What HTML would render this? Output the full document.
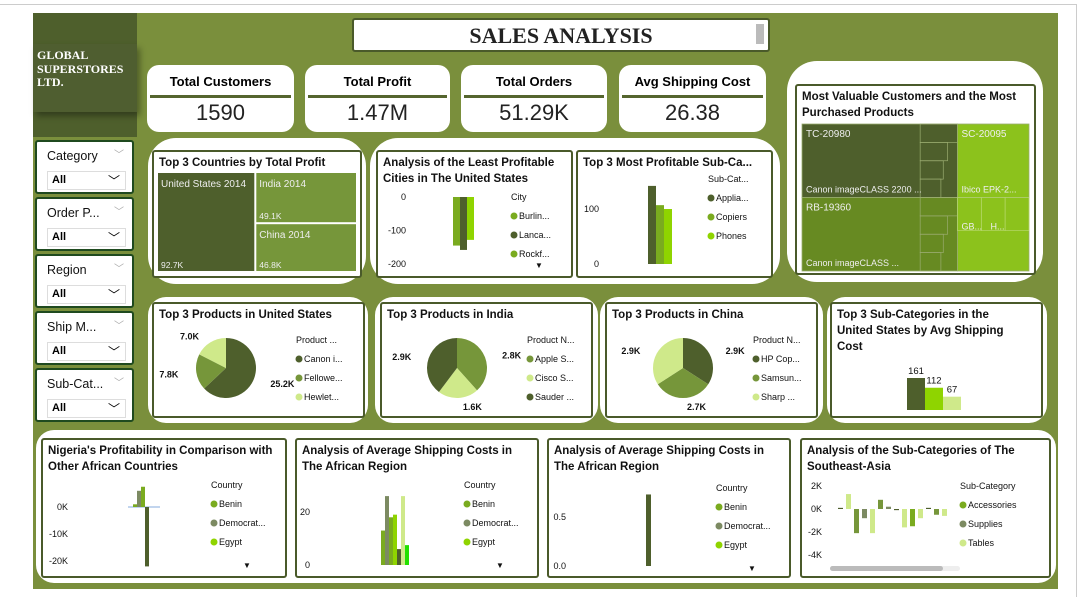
<!DOCTYPE html>
<html><head><meta charset="utf-8">
<style>
*{box-sizing:border-box;margin:0;padding:0}
body{width:1089px;height:597px;background:#fff;position:relative;overflow:hidden;font-family:"Liberation Sans",sans-serif}
.abs{position:absolute}
.bg{position:absolute;background:#fff}
.card{position:absolute;background:#fff;border:2px solid #4a5a2a;border-radius:3px}
.ct{position:absolute;left:5px;top:3px;font-size:11.5px;font-weight:bold;color:#111;line-height:16px}
.kpi{position:absolute;top:65px;height:67px;background:#fff;border-radius:12px;text-align:center}
.kpi .t{font-size:13px;font-weight:bold;margin-top:9px;height:17px}
.kpi .ln{height:3px;background:#55652e;margin:4px 3px 0}
.kpi .v{font-size:22px;margin-top:2px;color:#222}
.filt{position:absolute;left:35px;width:99px;height:54px;background:#fff;border:2px solid #1f4a1f;border-radius:3px}
.filt .l{position:absolute;left:10px;top:7px;font-size:12.5px;color:#111}
.filt .c1{position:absolute;right:8px;top:4px;font-size:10px;color:#aaa}
.filt .dd{position:absolute;left:10px;top:29px;width:79px;height:19px;border:1px solid #ddd;font-size:11px;font-weight:bold;padding:2px 4px}
.filt .dd span{position:absolute;right:5px;top:0px;font-weight:normal;font-size:12px}
</style></head><body>
<div class="abs" style="left:0;top:4px;width:1076px;height:1px;background:#ccc"></div>
<div class="abs" style="left:1076px;top:4px;width:1px;height:593px;background:#ccc"></div>
<div class="abs" style="left:33px;top:13px;width:1025px;height:576px;background:#7a8f3c"></div>
<div class="abs" style="left:33px;top:13px;width:104px;height:124px;background:#4e5f2c"></div>
<div class="abs" style="left:33px;top:44px;width:104px;height:68px;background:#4f5e30;box-shadow:3px 4px 6px rgba(0,0,0,.35);color:#fff;font-family:'Liberation Serif',serif;font-weight:bold;font-size:12px;line-height:13.5px;padding:5px 4px">GLOBAL<br>SUPERSTORES<br>LTD.</div>
<div class="abs" style="left:352px;top:18px;width:418px;height:34px;background:#fff;border:2px solid #4a5a2a;border-radius:3px;text-align:center;font-family:'Liberation Serif',serif;font-weight:bold;font-size:22px;line-height:32px;color:#222">SALES ANALYSIS<div style="position:absolute;right:4px;top:4px;width:8px;height:20px;background:#bbb"></div></div>

<div class="kpi" style="left:147px;width:147px"><div class="t">Total Customers</div><div class="ln"></div><div class="v">1590</div></div>
<div class="kpi" style="left:305px;width:145px"><div class="t">Total Profit</div><div class="ln"></div><div class="v">1.47M</div></div>
<div class="kpi" style="left:461px;width:146px"><div class="t">Total Orders</div><div class="ln"></div><div class="v">51.29K</div></div>
<div class="kpi" style="left:619px;width:147px"><div class="t">Avg Shipping Cost</div><div class="ln"></div><div class="v">26.38</div></div>

<div class="filt" style="top:140px"><div class="l">Category</div><div class="c1">﹀</div><div class="dd">All<span>﹀</span></div></div>
<div class="filt" style="top:197px"><div class="l">Order P...</div><div class="c1">﹀</div><div class="dd">All<span>﹀</span></div></div>
<div class="filt" style="top:254px"><div class="l">Region</div><div class="c1">﹀</div><div class="dd">All<span>﹀</span></div></div>
<div class="filt" style="top:311px"><div class="l">Ship M...</div><div class="c1">﹀</div><div class="dd">All<span>﹀</span></div></div>
<div class="filt" style="top:368px"><div class="l">Sub-Cat...</div><div class="c1">﹀</div><div class="dd">All<span>﹀</span></div></div>

<div class="bg" style="left:148px;top:138px;width:218px;height:146px;border-radius:28px"></div>
<div class="bg" style="left:370px;top:138px;width:410px;height:146px;border-radius:28px"></div>
<div class="bg" style="left:787px;top:61px;width:256px;height:221px;border-radius:30px"></div>
<div class="bg" style="left:148px;top:297px;width:220px;height:126px;border-radius:18px"></div>
<div class="bg" style="left:375px;top:297px;width:223px;height:126px;border-radius:18px"></div>
<div class="bg" style="left:600px;top:297px;width:223px;height:126px;border-radius:18px"></div>
<div class="bg" style="left:827px;top:297px;width:220px;height:126px;border-radius:18px"></div>
<div class="bg" style="left:36px;top:430px;width:1020px;height:153px;border-radius:18px"></div>

<div class="card" style="left:152px;top:150px;width:210px;height:128px"><div class="ct">Top 3 Countries by Total Profit</div></div>
<div class="card" style="left:376px;top:150px;width:197px;height:128px"><div class="ct">Analysis of the Least Profitable<br>Cities in The United States</div></div>
<div class="card" style="left:576px;top:150px;width:197px;height:128px"><div class="ct">Top 3 Most Profitable Sub-Ca...</div></div>
<div class="card" style="left:795px;top:84px;width:241px;height:191px"><div class="ct">Most Valuable Customers and the Most<br>Purchased Products</div></div>
<div class="card" style="left:152px;top:302px;width:213px;height:116px"><div class="ct">Top 3 Products in United States</div></div>
<div class="card" style="left:380px;top:302px;width:213px;height:116px"><div class="ct">Top 3 Products in India</div></div>
<div class="card" style="left:605px;top:302px;width:213px;height:116px"><div class="ct">Top 3 Products in China</div></div>
<div class="card" style="left:830px;top:302px;width:213px;height:116px"><div class="ct">Top 3 Sub-Categories in the<br>United States by Avg Shipping<br>Cost</div></div>
<div class="card" style="left:41px;top:438px;width:246px;height:140px"><div class="ct">Nigeria's Profitability in Comparison with<br>Other African Countries</div></div>
<div class="card" style="left:295px;top:438px;width:244px;height:140px"><div class="ct">Analysis of Average Shipping Costs in<br>The African Region</div></div>
<div class="card" style="left:547px;top:438px;width:244px;height:140px"><div class="ct">Analysis of Average Shipping Costs in<br>The African Region</div></div>
<div class="card" style="left:800px;top:438px;width:251px;height:140px"><div class="ct">Analysis of the Sub-Categories of The<br>Southeast-Asia</div></div>

<svg id="ov" width="1089" height="597" style="position:absolute;left:0;top:0" font-family="Liberation Sans, sans-serif"></svg>

<script>
const DK='#4e5f2c',MID='#76963a',GR='#7aab1f',LIME='#8fd400',LT='#cfe98a',GY='#7c8a62',BR='#22e000';
const countryNames=['United States 2014','India 2014','China 2014'];
const countryProfit=[92.7,49.1,46.8];
const countryLabels=['92.7K','49.1K','46.8K'];
const cityNames=['Burlin...','Lanca...','Rockf...'];
const cityProfit=[-145,-158,-128];
const cityTicks=[0,-100,-200];
const subcatNames=['Applia...','Copiers','Phones'];
const subcatProfit=[142,107,100];
const subcatTicks=[100,0];
const usProducts=['Canon i...','Fellowe...','Hewlet...'];
const usValues=[25.2,7.8,7.0];
const usLabels=['25.2K','7.8K','7.0K'];
const inProducts=['Apple S...','Cisco S...','Sauder ...'];
const inValues=[2.8,1.6,2.9];
const inLabels=['2.8K','1.6K','2.9K'];
const cnProducts=['HP Cop...','Samsun...','Sharp ...'];
const cnValues=[2.9,2.7,2.9];
const cnLabels=['2.9K','2.7K','2.9K'];
const usShipCats=['Cat A','Cat B','Cat C'];
const usShipValues=[161,112,67];
const africaCountries=['Benin','Democrat...','Egypt'];
const nigeriaValues=[1000,6000,7500,-22000];
const nigeriaTicks=[0,-10000,-20000];
const nigeriaTickLabels=['0K','-10K','-20K'];
const shipValues1=[13,26,18,19,6,26,7.5];
const shipTicks1=[20,0];
const shipValues2=[0.73];
const shipTicks2=[0.5,0.0];
const seaCats=['Accessories','Supplies','Tables'];
const seaValues=[0.1,1.3,-2.1,-0.8,-2.1,0.8,0.2,-0.1,-1.6,-1.5,-0.8,0.1,-0.5,-0.6];
const seaTicks=[2,0,-2,-4];
const seaTickLabels=['2K','0K','-2K','-4K'];
const custNames=['TC-20980','RB-19360','SC-20095','GB...'];
const custValues=[10,10,4.6,4.6];

const NS='http://www.w3.org/2000/svg';
const ov=document.getElementById('ov');
function mk(tag,attrs,txt){const e=document.createElementNS(NS,tag);for(const k in attrs)e.setAttribute(k,attrs[k]);if(txt!==undefined)e.textContent=txt;ov.appendChild(e);return e;}
function lin(v0,p0,v1,p1){return v=>p0+(v-v0)*(p1-p0)/(v1-v0);}
function txt(x,y,s,size,opt){const e=mk('text',Object.assign({x:x,y:y,'font-size':size||9,fill:'#111'},opt||{}),s);

return e;}
function legend(x,y,title,items,colors,gap){
 if(title)txt(x,y,title,9);
 items.forEach((it,i)=>{const yy=y+(gap||19)*(i+1);
  const c=mk('circle',{cx:x+3,cy:yy-3,r:3.5,fill:colors[i]});
  
  
  txt(x+8,yy,it,9);});
}
function bars(vals,colors,x0,w,ys,base,name){
 vals.forEach((v,i)=>{const y1=ys(v),y0=ys(base);
  const r=mk('rect',{x:x0+i*w,y:Math.min(y0,y1),width:w,height:Math.abs(y1-y0),fill:colors[i%colors.length]});
  
  });
}
function yaxis(ticks,labels,ys,x){ticks.forEach((t,i)=>txt(x,ys(t)+3,labels[i],9,{'text-anchor':'end'}));}

(function(){const x=157,y=172,w=200,h=100,tot=countryProfit.reduce((a,b)=>a+b,0);
 const w0=w*countryProfit[0]/tot;
 const h1=h*countryProfit[1]/(countryProfit[1]+countryProfit[2]);
 const rects=[[x,y,w0,h,DK],[x+w0,y,w-w0,h1,MID],[x+w0,y+h1,w-w0,h-h1,MID]];
 rects.forEach((r,i)=>{const e=mk('rect',{x:r[0]+0.5,y:r[1]+0.5,width:r[2]-1,height:r[3]-1,fill:r[4],stroke:'#fff','stroke-width':1});
  
  
  txt(r[0]+4,r[1]+15,countryNames[i],10,{fill:'#eee'});
  txt(r[0]+4,r[1]+r[3]-4,countryLabels[i],8.5,{fill:'#eee'});});
})();

(function(){const ys=lin(0,197,-200,264);
 yaxis(cityTicks,['0','-100','-200'],ys,406);
 bars(cityProfit,[GR,DK,LIME],453,7,ys,0,'city');
 legend(511,200,'City',cityNames,[GR,DK,GR],19);
 txt(535,268,'▼',8);
})();

(function(){const ys=lin(0,264,100,209);
 yaxis(subcatTicks,['100','0'],ys,599);
 bars(subcatProfit,[DK,GR,LIME],648,8,ys,0,'subcat');
 legend(708,182,'Sub-Cat...',subcatNames,[DK,GR,LIME],19);
})();

(function(){const x=802,y=124,w=227,h=147,tot=custValues.reduce((a,b)=>a+b,0);
 const wl=w*(custValues[0]+custValues[1])/tot;
 const h0=h*custValues[0]/(custValues[0]+custValues[1]);
 const h2=h*custValues[2]/(custValues[2]+custValues[3]);
 const R=[[x,y,wl,h0,'#4e5f2c'],[x,y+h0,wl,h-h0,'#678a22'],[x+wl,y,w-wl,h2,'#8cc21c'],[x+wl,y+h2,w-wl,h-h2,'#8cc21c']];
 const sub=['Canon imageCLASS 2200 ...','Canon imageCLASS ...','Ibico EPK-2...',''];
 R.forEach((r,i)=>{const e=mk('rect',{x:r[0],y:r[1],width:r[2],height:r[3],fill:r[4],stroke:'#9aac70','stroke-width':0.8});
  
  
  const mw=r[2]*(i<2?0.76:1), mh=i<3?r[3]:r[3]*0.45;
  if(i<2){for(let k=0;k<4;k++){const cw=(r[2]-mw);const g=mk('rect',{x:r[0]+mw,y:r[1]+k*r[3]/4,width:cw/(k+1.5)+cw/3,height:r[3]/4,fill:'none',stroke:'#9aac70','stroke-width':0.7});
   
   }}
  if(i===3){for(let k=0;k<3;k++){const g=mk('rect',{x:r[0]+k*r[2]/3,y:r[1],width:r[2]/3,height:mh,fill:'none',stroke:'#b6d86a','stroke-width':0.7});
   
   }}
  if(i<3){txt(r[0]+4,r[1]+13,custNames[i],10,{fill:'#eee'});txt(r[0]+4,r[1]+r[3]-5,sub[i],9,{fill:'#eee'});}
  else{txt(r[0]+4,r[1]+32,'GB...',9,{fill:'#eee'});txt(r[0]+33,r[1]+32,'H...',9,{fill:'#eee'});}
 });
})();

function pie(cx,cy,r,vals,labels,colors,names,name,lpos){
 const tot=vals.reduce((a,b)=>a+b,0);let a=-Math.PI/2;
 vals.forEach((v,i)=>{const a2=a+2*Math.PI*v/tot;
  const p=`M${cx},${cy} L${cx+r*Math.cos(a)},${cy+r*Math.sin(a)} A${r},${r} 0 ${a2-a>Math.PI?1:0} 1 ${cx+r*Math.cos(a2)},${cy+r*Math.sin(a2)} Z`;
  const s=mk('path',{d:p,fill:colors[i]});
  
  
  const m=(a+a2)/2,lx=cx+(r+14)*Math.cos(m),ly=cy+(r+8)*Math.sin(m);
  const right=Math.cos(m)>=0;
  txt(lx+(right?4:-4),ly+4,labels[i],9,{'font-weight':'bold','text-anchor':right?'start':'end'});
  a=a2;});
 legend(cx+70,cy-25,lpos,names,colors,19);
}
pie(226,368,30,usValues,usLabels,[DK,MID,LT],usProducts,'us-pie','Product ...');
pie(457,368,30,inValues,inLabels,[MID,LT,DK],inProducts,'india-pie','Product N...');
pie(683,368,30,cnValues,cnLabels,[DK,MID,LT],cnProducts,'china-pie','Product N...');

(function(){const ys=lin(0,410,161,378);
 bars(usShipValues,[DK,LIME,LT],907,18,ys,0,'us-ship');
 usShipValues.forEach((v,i)=>txt(916+i*18,ys(v)-4,String(v),9.5,{'text-anchor':'middle'}));
})();

(function(){const ys=lin(0,507,-20000,561);
 yaxis(nigeriaTicks,nigeriaTickLabels,ys,68);
 mk('line',{x1:128,x2:160,y1:507,y2:507,stroke:'#5b8fd0','stroke-width':0.8});
 bars(nigeriaValues,[GR,GY,GR,DK],133,4,ys,0,'nigeria');
 legend(211,488,'Country',africaCountries,[GR,GY,LIME],19);
 txt(243,568,'▼',8);
})();

(function(){const ys=lin(0,565,20,512);
 yaxis(shipTicks1,['20','0'],ys,310);
 bars(shipValues1,[GR,GY,GR,LIME,DK,LT,BR],381,4,ys,0,'africa-ship');
 legend(464,488,'Country',africaCountries,[GR,GY,LIME],19);
 txt(496,568,'▼',8);
})();

(function(){const ys=lin(0,566,0.5,517);
 yaxis(shipTicks2,['0.5','0.0'],ys,566);
 bars(shipValues2,[DK],646,5,ys,0,'africa-ship2');
 legend(716,491,'Country',africaCountries,[GR,GY,LIME],19);
 txt(748,571,'▼',8);
})();

(function(){const ys=lin(0,509,2,486);
 yaxis(seaTicks,seaTickLabels,ys,822);
 const cols=[DK,LT,MID,GY,LT,MID,GY,DK,LT,GR,LT,DK,MID,LT];
 seaValues.forEach((v,i)=>{const x=838+i*8;const y1=ys(v),y0=ys(0);
  const r=mk('rect',{x:x,y:Math.min(y0,y1),width:5,height:Math.max(1,Math.abs(y1-y0)),fill:cols[i]});
  
  });
 legend(960,489,'Sub-Category',seaCats,[GR,GY,LT],19);
 const sb=mk('rect',{x:830,y:566,width:130,height:5,rx:2.5,fill:'#eee'});
 
 
 const th=mk('rect',{x:830,y:566,width:113,height:5,rx:2.5,fill:'#bbb'});
 
 
})();
</script>
</body></html>
